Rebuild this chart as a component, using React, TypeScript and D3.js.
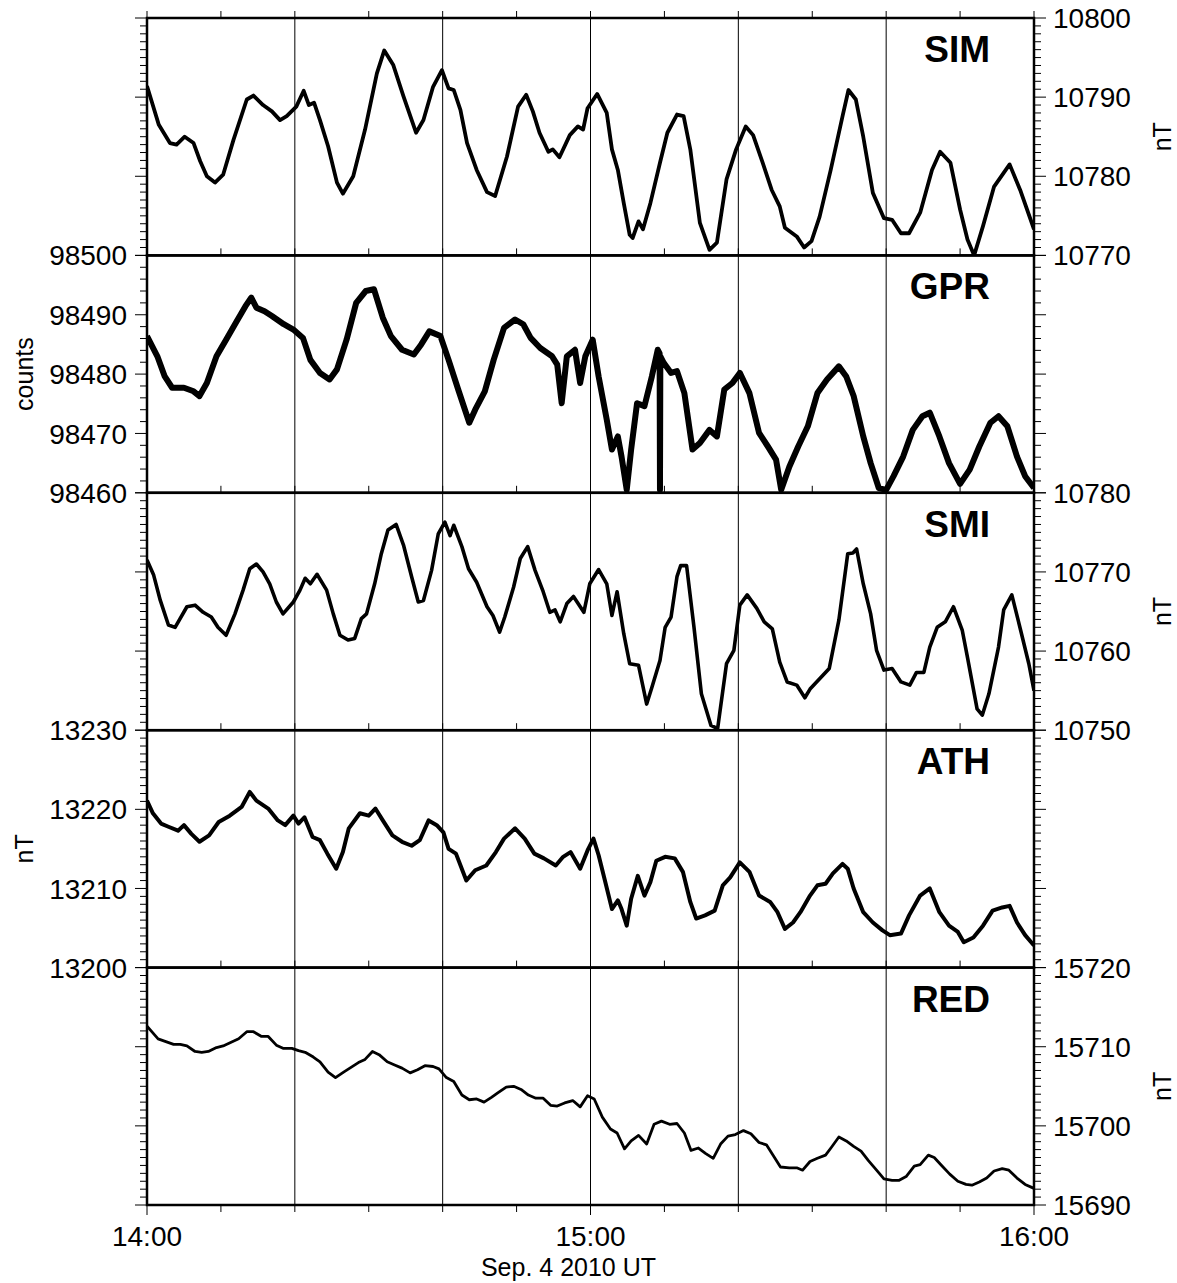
import React from 'react';
import * as d3 from 'd3';

// minutes after 14:00 UT, value
const sim: [number, number][] = [
  [0, 10791.4], [1.6, 10786.5], [3.1, 10784.2], [4.0, 10784.0], [5.1, 10785.0], [6.3, 10784.2], [7.2, 10781.9],
  [8.1, 10780.0], [9.2, 10779.2], [10.3, 10780.2], [11.7, 10784.6], [13.5, 10789.7], [14.4, 10790.2], [15.7, 10789.0],
  [16.9, 10788.2], [18.0, 10787.1], [18.9, 10787.6], [20.2, 10788.8], [21.2, 10790.8], [21.9, 10789.0], [22.6, 10789.3],
  [23.4, 10787.1], [24.5, 10783.8], [25.7, 10779.2], [26.5, 10777.8], [27.9, 10780.0], [29.5, 10785.9], [31.1, 10793.0],
  [32.1, 10795.9], [33.3, 10794.1], [34.7, 10790.1], [36.4, 10785.5], [37.4, 10787.1], [38.7, 10791.3], [39.9, 10793.4],
  [40.8, 10791.1], [41.5, 10790.9], [42.4, 10788.4], [43.3, 10784.2], [44.6, 10780.8], [46.0, 10778.0], [47.1, 10777.5],
  [48.7, 10782.5], [50.2, 10788.8], [51.3, 10790.3], [52.2, 10788.2], [53.1, 10785.5], [54.3, 10783.1], [54.9, 10783.4],
  [55.8, 10782.4], [57.2, 10785.2], [58.3, 10786.3], [59.0, 10785.9], [59.6, 10788.6], [60.9, 10790.4], [62.2, 10788.0],
  [62.9, 10783.4], [63.7, 10780.8], [64.5, 10776.6], [65.3, 10772.6], [65.7, 10772.2], [66.5, 10774.3], [67.1, 10773.3],
  [68.1, 10776.6], [69.4, 10781.7], [70.4, 10785.5], [71.7, 10787.8], [72.6, 10787.6], [73.5, 10783.4], [74.8, 10774.1],
  [76.1, 10770.7], [77.1, 10771.6], [78.4, 10779.6], [79.7, 10783.4], [81.0, 10786.3], [82.0, 10785.2], [83.3, 10781.7],
  [84.5, 10778.3], [85.6, 10776.2], [86.3, 10773.5], [87.9, 10772.4], [88.9, 10771.0], [89.9, 10771.8], [91.0, 10774.9],
  [92.5, 10780.8], [94.1, 10787.6], [94.9, 10790.9], [95.9, 10789.7], [96.9, 10785.0], [98.2, 10777.9], [99.7, 10774.7],
  [100.8, 10774.5], [102.0, 10772.8], [103.1, 10772.8], [104.6, 10775.4], [106.2, 10780.8], [107.3, 10783.1],
  [108.7, 10781.7], [110.0, 10775.8], [111.0, 10772.0], [111.9, 10770.0], [113.1, 10773.7], [114.6, 10778.7],
  [116.7, 10781.5], [118.2, 10778.1], [120, 10773.3],
];

const gpr: [number, number][] = [
  [0, 98486.4], [1.4, 98483.0], [2.4, 98479.6], [3.4, 98477.7], [5.0, 98477.7], [6.3, 98477.1], [7.1, 98476.3],
  [8.1, 98478.5], [9.4, 98483.0], [10.7, 98485.8], [12.0, 98488.6], [13.3, 98491.4], [14.1, 98492.9], [14.8, 98491.2],
  [15.9, 98490.6], [16.9, 98489.8], [18.5, 98488.4], [19.8, 98487.5], [21.1, 98486.1], [22.1, 98482.4], [23.4, 98480.2],
  [24.7, 98479.1], [25.7, 98480.8], [27.0, 98485.8], [28.3, 98492.0], [29.6, 98494.0], [30.7, 98494.3], [31.9, 98489.5],
  [33.0, 98486.4], [34.5, 98484.1], [36.1, 98483.3], [37.1, 98485.0], [38.2, 98487.2], [39.7, 98486.4], [40.8, 98482.4],
  [42.1, 98477.4], [43.6, 98471.8], [44.4, 98474.0], [45.7, 98477.1], [46.9, 98482.4], [48.3, 98487.8], [49.8, 98489.2],
  [50.9, 98488.4], [51.9, 98486.1], [53.2, 98484.4], [54.8, 98483.0], [55.5, 98481.6], [56.1, 98475.1], [56.8, 98483.0],
  [57.9, 98484.1], [58.6, 98478.5], [59.3, 98483.0], [60.3, 98485.8], [61.1, 98479.6], [62.2, 98472.3], [62.9, 98467.3],
  [63.7, 98469.5], [64.2, 98466.1], [64.9, 98460.5], [65.5, 98467.3], [66.3, 98475.1], [67.3, 98474.6], [68.3, 98479.6],
  [69.1, 98484.1], [69.35, 98483.5], [69.4, 98460.5], [69.45, 98483.0], [69.9, 98481.9], [70.9, 98480.2],
  [71.7, 98480.5], [72.7, 98476.8], [73.8, 98467.3], [74.8, 98468.4], [76.1, 98470.6], [77.1, 98469.5], [78.1, 98477.4],
  [79.2, 98478.5], [80.2, 98480.2], [81.5, 98476.8], [82.8, 98470.1], [84.0, 98467.8], [85.1, 98465.6], [85.8, 98460.5],
  [86.9, 98464.4], [88.1, 98467.8], [89.4, 98471.2], [90.7, 98476.8], [92.0, 98479.1], [93.6, 98481.3], [94.6, 98479.6],
  [95.6, 98476.3], [96.9, 98469.5], [97.9, 98465.0], [99.0, 98460.8], [100.0, 98460.5], [101.0, 98462.8],
  [102.3, 98466.1], [103.6, 98470.6], [104.9, 98472.9], [105.9, 98473.5], [107.2, 98469.5], [108.5, 98465.0],
  [110.0, 98461.5], [111.3, 98463.9], [112.6, 98467.8], [114.1, 98471.8], [115.2, 98472.9], [116.4, 98471.2],
  [117.7, 98466.1], [118.8, 98462.8], [120, 98460.8],
];

const smi: [number, number][] = [
  [0, 10771.5], [0.9, 10769.6], [1.8, 10766.4], [2.9, 10763.3], [3.8, 10763.0], [5.4, 10765.6], [6.5, 10765.8],
  [7.6, 10764.9], [8.7, 10764.3], [9.6, 10763.0], [10.7, 10762.0], [11.9, 10764.7], [13.0, 10767.7], [13.9, 10770.4],
  [14.8, 10771.0], [15.7, 10770.0], [16.6, 10768.5], [17.5, 10766.2], [18.4, 10764.7], [19.8, 10766.2], [20.7, 10767.7],
  [21.4, 10769.2], [22.1, 10768.5], [23.0, 10769.7], [24.3, 10767.7], [25.2, 10764.7], [26.1, 10762.0], [27.2, 10761.4],
  [28.1, 10761.6], [29.0, 10764.1], [29.7, 10764.7], [30.8, 10768.5], [31.7, 10772.3], [32.6, 10775.3], [33.7, 10776.0],
  [34.7, 10773.4], [35.8, 10769.4], [36.7, 10766.2], [37.4, 10766.4], [38.5, 10770.2], [39.4, 10774.8], [40.3, 10776.3],
  [41.0, 10774.6], [41.5, 10775.9], [42.6, 10773.2], [43.5, 10770.4], [44.6, 10768.7], [46.0, 10765.6], [46.8, 10764.5],
  [47.7, 10762.4], [48.4, 10764.3], [49.6, 10768.1], [50.5, 10771.7], [51.5, 10773.2], [52.5, 10770.2], [53.6, 10767.5],
  [54.5, 10764.9], [55.2, 10765.2], [55.9, 10763.7], [56.8, 10766.0], [57.7, 10766.9], [59.1, 10764.9], [59.9, 10768.5],
  [61.1, 10770.3], [62.2, 10768.5], [62.9, 10764.5], [63.6, 10767.5], [64.5, 10762.2], [65.3, 10758.4], [66.5, 10758.2],
  [67.6, 10753.3], [68.3, 10755.4], [69.4, 10758.8], [70.1, 10763.0], [70.9, 10764.3], [71.7, 10769.4], [72.2, 10770.8],
  [73.0, 10770.8], [74.0, 10763.0], [75.0, 10754.6], [76.3, 10750.6], [77.2, 10750.2], [78.4, 10758.4], [79.4, 10760.1],
  [80.2, 10765.8], [81.2, 10767.1], [82.5, 10765.4], [83.5, 10763.7], [84.6, 10762.8], [85.6, 10758.6], [86.6, 10756.1],
  [87.9, 10755.7], [89.0, 10754.1], [89.7, 10755.2], [91.0, 10756.5], [92.3, 10757.8], [93.6, 10763.9], [94.8, 10772.3],
  [95.5, 10772.4], [96.0, 10772.9], [96.9, 10768.5], [97.9, 10764.7], [98.7, 10760.1], [99.7, 10757.6], [100.8, 10757.8],
  [102.0, 10756.1], [103.2, 10755.7], [104.1, 10757.3], [105.1, 10757.3], [105.9, 10760.5], [106.9, 10763.0],
  [108.0, 10763.7], [109.1, 10765.6], [110.3, 10762.6], [111.0, 10759.2], [112.3, 10752.7], [113.0, 10751.9],
  [113.9, 10754.6], [115.2, 10760.5], [115.9, 10765.2], [117.0, 10767.1], [118.2, 10762.6], [119.3, 10758.4], [120, 10755.0],
];

const ath: [number, number][] = [
  [0, 13221.1], [0.8, 13219.5], [1.9, 13218.2], [2.9, 13217.8], [4.2, 13217.3], [5.0, 13218.0], [6.0, 13216.9],
  [7.1, 13215.9], [8.4, 13216.7], [9.7, 13218.4], [11.2, 13219.2], [12.8, 13220.3], [13.9, 13222.2], [14.8, 13221.1],
  [16.4, 13220.1], [17.7, 13218.6], [18.7, 13218.0], [19.8, 13219.2], [20.5, 13218.2], [21.3, 13219.0], [22.4, 13216.5],
  [23.4, 13216.1], [24.4, 13214.4], [25.6, 13212.5], [26.5, 13214.6], [27.3, 13217.6], [28.8, 13219.5], [30.0, 13219.2],
  [30.9, 13220.1], [31.9, 13218.6], [33.2, 13216.7], [34.5, 13215.9], [35.8, 13215.4], [36.9, 13216.1], [38.1, 13218.6],
  [39.2, 13218.0], [40.1, 13217.1], [40.8, 13215.0], [41.8, 13214.4], [43.2, 13211.0], [44.4, 13212.3], [45.9, 13212.9],
  [47.2, 13214.6], [48.3, 13216.3], [49.8, 13217.6], [51.1, 13216.3], [52.4, 13214.4], [53.7, 13213.8], [55.3, 13212.9],
  [56.3, 13214.0], [57.3, 13214.6], [58.6, 13212.5], [59.6, 13214.8], [60.4, 13216.3], [61.1, 13214.2], [61.9, 13211.2],
  [62.9, 13207.4], [63.7, 13208.5], [64.2, 13207.4], [64.9, 13205.3], [65.5, 13208.7], [66.4, 13211.6], [67.3, 13209.1],
  [68.1, 13210.8], [68.9, 13213.5], [70.1, 13214.0], [71.4, 13213.8], [72.5, 13212.1], [73.5, 13208.3], [74.3, 13206.2],
  [75.5, 13206.6], [76.8, 13207.2], [77.9, 13210.4], [78.9, 13211.4], [80.2, 13213.3], [81.5, 13212.1], [82.8, 13209.1],
  [84.3, 13208.3], [85.3, 13207.0], [86.3, 13204.9], [87.4, 13205.7], [88.4, 13207.0], [89.7, 13209.1], [90.7, 13210.4],
  [91.8, 13210.6], [92.8, 13211.9], [94.1, 13213.1], [94.8, 13212.5], [95.6, 13210.0], [96.9, 13207.0], [98.2, 13205.7],
  [99.5, 13204.7], [100.5, 13204.1], [102.0, 13204.3], [103.1, 13206.6], [104.6, 13209.1], [105.9, 13210.0],
  [107.2, 13207.0], [108.5, 13205.3], [109.7, 13204.5], [110.5, 13203.2], [111.8, 13203.8], [113.1, 13205.3],
  [114.4, 13207.2], [115.7, 13207.6], [116.7, 13207.8], [117.7, 13205.7], [118.8, 13204.1], [120, 13202.8],
];

const red: [number, number][] = [
  [0, 15712.6], [1.5, 15711.0], [3.6, 15710.3], [4.5, 15710.3], [5.4, 15710.1], [6.5, 15709.4], [7.4, 15709.3],
  [8.3, 15709.4], [9.4, 15709.9], [10.3, 15710.1], [12.4, 15711.0], [13.5, 15711.9], [14.4, 15711.9], [15.5, 15711.3],
  [16.4, 15711.3], [17.5, 15710.2], [18.4, 15709.8], [19.6, 15709.8], [20.5, 15709.5], [21.4, 15709.3], [22.5, 15708.7],
  [23.4, 15708.1], [24.5, 15706.8], [25.5, 15706.1], [26.6, 15706.8], [27.6, 15707.4], [28.6, 15708.0], [29.5, 15708.4],
  [30.5, 15709.4], [31.4, 15709.0], [32.5, 15708.1], [33.5, 15707.7], [34.5, 15707.3], [35.6, 15706.7], [36.6, 15707.1],
  [37.6, 15707.6], [38.7, 15707.5], [39.5, 15707.2], [40.5, 15706.1], [41.5, 15705.6], [42.6, 15703.9], [43.6, 15703.3],
  [44.6, 15703.4], [45.6, 15703.0], [46.6, 15703.6], [47.5, 15704.2], [48.6, 15704.9], [49.6, 15705.0], [50.6, 15704.6],
  [51.6, 15703.9], [52.6, 15703.5], [53.6, 15703.5], [54.6, 15702.6], [55.5, 15702.5], [56.5, 15702.9], [57.6, 15703.2],
  [58.6, 15702.4], [59.6, 15703.8], [60.5, 15703.4], [61.6, 15701.1], [62.7, 15699.6], [63.6, 15699.1], [64.6, 15697.1],
  [65.5, 15698.1], [66.5, 15698.8], [67.6, 15697.7], [68.6, 15700.2], [69.6, 15700.6], [70.7, 15700.2], [71.7, 15700.3],
  [72.7, 15699.1], [73.6, 15696.9], [74.6, 15697.2], [75.6, 15696.5], [76.6, 15695.9], [77.6, 15697.7], [78.6, 15698.7],
  [79.6, 15698.9], [80.7, 15699.4], [81.7, 15699.0], [82.8, 15697.9], [83.8, 15697.6], [84.7, 15696.3], [85.7, 15694.8],
  [86.9, 15694.7], [87.9, 15694.7], [88.7, 15694.4], [89.7, 15695.5], [90.7, 15695.9], [91.8, 15696.3], [92.6, 15697.3],
  [93.6, 15698.6], [94.6, 15698.1], [95.6, 15697.4], [96.6, 15696.8], [97.6, 15695.6], [98.7, 15694.4], [99.7, 15693.3],
  [100.8, 15693.1], [101.7, 15693.1], [102.7, 15693.6], [103.8, 15694.9], [104.6, 15695.1], [105.7, 15696.3],
  [106.5, 15696.0], [107.5, 15695.0], [108.6, 15693.9], [109.7, 15693.0], [110.8, 15692.6], [111.6, 15692.5],
  [112.6, 15692.9], [113.6, 15693.4], [114.6, 15694.3], [115.7, 15694.6], [116.6, 15694.4], [117.7, 15693.4],
  [118.8, 15692.6], [120, 15692.1],
];

// axis ranges / tick labels
const simTicks = [10770, 10780, 10790, 10800];
const gprTicks = [98460, 98470, 98480, 98490, 98500];
const smiTicks = [10750, 10760, 10770, 10780];
const athTicks = [13200, 13210, 13220, 13230];
const redTicks = [15690, 15700, 15710, 15720];
const timeTicks = [0, 60, 120];
const timeLabels = ['14:00', '15:00', '16:00'];
const gridMinutes = [20, 40, 60, 80, 100];

const W = 1177;
const H = 1283;
const left = 147;
const right = 1034;
const top = 18;
const panelH = 237.4;
const FONT = '"Liberation Sans", Arial, Helvetica, sans-serif';

const x = d3.scaleLinear().domain([0, 120]).range([left, right]);

interface PanelDef {
  name: string;
  data: [number, number][];
  ticks: number[];
  minor: number;
  side: 'left' | 'right';
  unit: string;
  width: number;
}

const panels: PanelDef[] = [
  { name: 'SIM', data: sim, ticks: simTicks, minor: 1, side: 'right', unit: 'nT', width: 3.8 },
  { name: 'GPR', data: gpr, ticks: gprTicks, minor: 2, side: 'left', unit: 'counts', width: 6 },
  { name: 'SMI', data: smi, ticks: smiTicks, minor: 1, side: 'right', unit: 'nT', width: 3.6 },
  { name: 'ATH', data: ath, ticks: athTicks, minor: 1, side: 'left', unit: 'nT', width: 4 },
  { name: 'RED', data: red, ticks: redTicks, minor: 1, side: 'right', unit: 'nT', width: 2.8 },
];

function Panel({ p, i }: { p: PanelDef; i: number }) {
  const y0 = top + i * panelH;
  const y1 = y0 + panelH;
  const lo = d3.min(p.ticks)!;
  const hi = d3.max(p.ticks)!;
  const y = d3.scaleLinear().domain([lo, hi]).range([y1, y0]);
  const line = d3.line<[number, number]>()
    .x(d => x(d[0]))
    .y(d => y(d[1]));
  const minorTicks = d3.range(lo, hi + 0.001, p.minor);
  const topTicks = d3.range(0, 121, 10);
  const clipId = `clip-${p.name}`;
  const labelX = p.side === 'left' ? left - 20 : right + 19;
  const unitX = p.side === 'left' ? 24 : 1162;
  const midY = (y0 + y1) / 2;

  return (
    <g>
      <defs>
        <clipPath id={clipId}>
          <rect x={left} y={y0} width={right - left} height={panelH} />
        </clipPath>
      </defs>
      {gridMinutes.map(m => (
        <line key={m} x1={x(m)} x2={x(m)} y1={y0} y2={y1} stroke="#000" strokeWidth={1} />
      ))}
      <path d={line(p.data) ?? ''} fill="none" stroke="#000" strokeWidth={p.width}
        strokeLinejoin="round" clipPath={`url(#${clipId})`} />
      {/* top ticks, pointing up */}
      {topTicks.map(m => (
        <line key={`t${m}`} x1={x(m)} x2={x(m)} y1={y0} y2={y0 - 7} stroke="#000" strokeWidth={1} />
      ))}
      {/* y ticks both sides */}
      {minorTicks.map(v => {
        const major = Math.abs(v % 10) < 0.001;
        const len = major ? 12 : 7;
        return (
          <g key={`y${v}`}>
            <line x1={left - len} x2={left} y1={y(v)} y2={y(v)} stroke="#000" strokeWidth={1} />
            <line x1={right} x2={right + len} y1={y(v)} y2={y(v)} stroke="#000" strokeWidth={1} />
          </g>
        );
      })}
      {p.ticks.map(v => (
        <text key={`l${v}`} x={labelX} y={y(v)} dy="0.36em" fontSize={28} fontFamily={FONT}
          textAnchor={p.side === 'left' ? 'end' : 'start'}>{v}</text>
      ))}
      <text x={unitX} y={midY} fontSize={25} fontFamily={FONT} textAnchor="middle" dy="0.35em"
        transform={`rotate(-90 ${unitX} ${midY})`}>{p.unit}</text>
      <text x={990} y={y0 + 44} fontSize={37} fontWeight="bold" fontFamily={FONT} textAnchor="end">{p.name}</text>
      <rect x={left} y={y0} width={right - left} height={panelH} fill="none" stroke="#000" strokeWidth={2.5} />
    </g>
  );
}

export default function App() {
  const bottom = top + panelH * panels.length;
  const bottomTicks = d3.range(0, 121, 10);
  return (
    <svg width={W} height={H} style={{ position: 'absolute', left: 0, top: 0, background: '#fff' }}>
      <rect width={W} height={H} fill="#fff" />
      {panels.map((p, i) => <Panel key={p.name} p={p} i={i} />)}
      {bottomTicks.map(m => (
        <line key={m} x1={x(m)} x2={x(m)} y1={bottom} y2={bottom + (m % 60 === 0 ? 10 : 7)}
          stroke="#000" strokeWidth={1} />
      ))}
      {timeTicks.map((m, i) => (
        <text key={m} x={x(m)} y={bottom + 41} fontSize={28} fontFamily={FONT} textAnchor="middle">{timeLabels[i]}</text>
      ))}
      <text x={(left + right) / 2 - 22} y={bottom + 71} fontSize={25} fontFamily={FONT} textAnchor="middle">Sep. 4 2010 UT</text>
    </svg>
  );
}
